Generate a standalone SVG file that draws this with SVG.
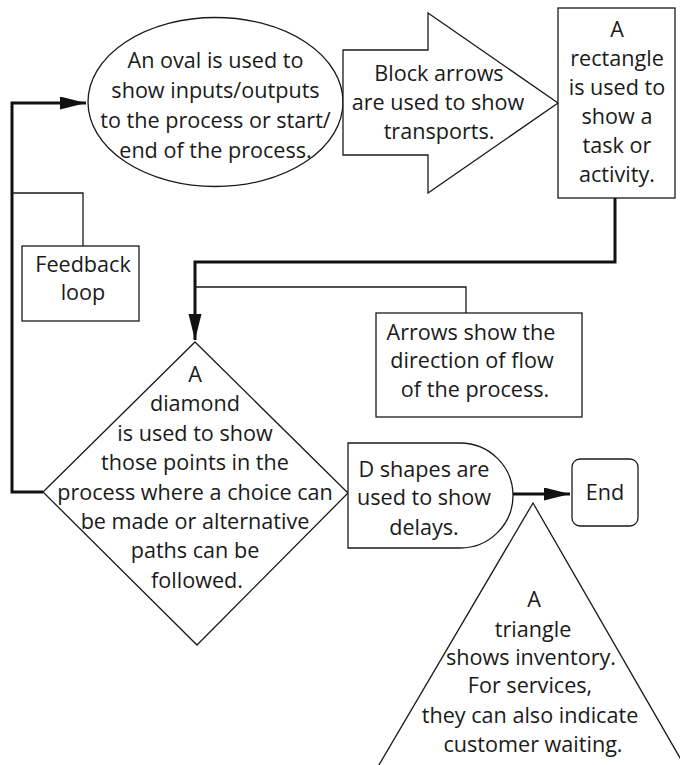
<svg xmlns="http://www.w3.org/2000/svg" width="680" height="765" viewBox="0 0 680 765">
<style>
.s{fill:#fff;stroke:#1a1a1a;stroke-width:1.3}
.t{font-family:"Open Sans","Noto Sans",sans-serif;font-size:21.6px;fill:#1a1a1a;text-anchor:middle}
.c{fill:none;stroke:#111;stroke-width:3}
.n{fill:none;stroke:#1a1a1a;stroke-width:1.3}
</style>
<defs>
<marker id="ah" markerUnits="userSpaceOnUse" markerWidth="27" markerHeight="14" refX="26" refY="6.5" orient="auto">
<path d="M0,0 L26,6.5 L0,13 z" fill="#111"/>
</marker>
</defs>
<rect width="680" height="765" fill="#fff"/>
<g id="connectors">
<path class="c" d="M43,492 H12 V103 H86" marker-end="url(#ah)"/>
<path class="c" d="M615,198 V262 H195 V340" marker-end="url(#ah)"/>
<path class="c" d="M513,494 H570" marker-end="url(#ah)"/>
<path class="n" d="M12,193 H83 V246"/>
<path class="n" d="M195,287 H466 V313"/>
</g>
<g id="oval">
<ellipse class="s" cx="215.5" cy="102" rx="127.5" ry="84.5"/>
<text class="t" x="215.5" y="68">An oval is used to</text>
<text class="t" x="215.5" y="98">show inputs/outputs</text>
<text class="t" x="215.5" y="128">to the process or start/</text>
<text class="t" x="215.5" y="158">end of the process.</text>
</g>
<g id="blockarrow">
<polygon class="s" points="343,50 428,50 428,13 558,103 428,193 428,155 343,155"/>
<text class="t" x="439" y="81">Block arrows</text>
<text class="t" x="438" y="110">are used to show</text>
<text class="t" x="439" y="139">transports.</text>
</g>
<g id="rectangle">
<rect class="s" x="558" y="8" width="117" height="190"/>
<text class="t" x="617" y="37">A</text>
<text class="t" x="617" y="66">rectangle</text>
<text class="t" x="617" y="95">is used to</text>
<text class="t" x="617" y="124">show a</text>
<text class="t" x="617" y="153">task or</text>
<text class="t" x="617" y="182">activity.</text>
</g>
<g id="feedback">
<rect class="s" x="22" y="246" width="117" height="75"/>
<text class="t" x="83" y="272">Feedback</text>
<text class="t" x="83" y="300">loop</text>
</g>
<g id="arrowsnote">
<rect class="s" x="376" y="313" width="206" height="104"/>
<text class="t" x="471" y="340">Arrows show the</text>
<text class="t" x="472" y="368">direction of flow</text>
<text class="t" x="475" y="397">of the process.</text>
</g>
<g id="diamond">
<polygon class="s" points="195,342 348,493 197,645 43,492"/>
<text class="t" x="195" y="382">A</text>
<text class="t" x="195" y="411">diamond</text>
<text class="t" x="195" y="441">is used to show</text>
<text class="t" x="195" y="470">those points in the</text>
<text class="t" x="195" y="500">process where a choice can</text>
<text class="t" x="195" y="529">be made or alternative</text>
<text class="t" x="195" y="558">paths can be</text>
<text class="t" x="197" y="588">followed.</text>
</g>
<g id="dshape">
<path class="s" d="M348,443 H460 A53,52.5 0 0 1 460,548 H348 Z"/>
<text class="t" x="424" y="477">D shapes are</text>
<text class="t" x="424" y="505">used to show</text>
<text class="t" x="424" y="535">delays.</text>
</g>
<g id="end">
<rect class="s" x="572" y="459" width="66" height="67" rx="8"/>
<text class="t" x="605" y="500">End</text>
</g>
<g id="triangle">
<polygon class="s" points="533,503 376,770 687,770"/>
<text class="t" x="534" y="607">A</text>
<text class="t" x="533" y="637">triangle</text>
<text class="t" x="531" y="665">shows inventory.</text>
<text class="t" x="530" y="693">For services,</text>
<text class="t" x="530" y="723">they can also indicate</text>
<text class="t" x="533" y="752">customer waiting.</text>
</g>
</svg>
